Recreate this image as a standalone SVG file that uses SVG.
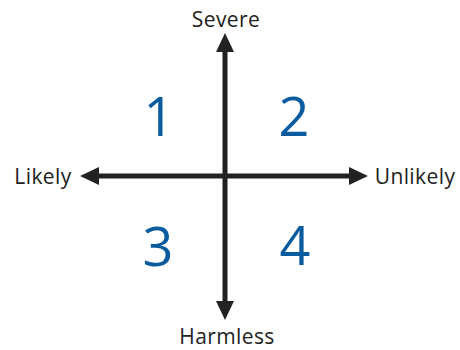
<svg xmlns="http://www.w3.org/2000/svg" width="460" height="350" viewBox="0 0 460 350">
<style>
.lbl{font-family:"Open Sans","Noto Sans",sans-serif;font-size:21px;fill:#222;text-anchor:middle;letter-spacing:0.4px}
.num{font-family:"Open Sans","Noto Sans",sans-serif;font-size:54px;fill:#0b5c9e;text-anchor:middle}
.ax{stroke:#222;stroke-width:5;fill:none}
.head{fill:#222}
</style>
<rect width="460" height="350" fill="#fff"/>
<g id="connectors">
<line class="ax" x1="225" y1="48" x2="225" y2="305"/>
<line class="ax" x1="95" y1="176" x2="353" y2="176"/>
<polygon class="head" points="225,33 216,52 234,52"/>
<polygon class="head" points="225,320 216,301 234,301"/>
<polygon class="head" points="80,176 99,167 99,185"/>
<polygon class="head" points="368,176 349,167 349,185"/>
</g>
<g id="severe"><text class="lbl" x="226" y="27">Severe</text></g>
<g id="harmless"><text class="lbl" x="227" y="344">Harmless</text></g>
<g id="likely"><text class="lbl" x="43" y="184">Likely</text></g>
<g id="unlikely"><text class="lbl" x="415" y="184">Unlikely</text></g>
<g id="q1"><text class="num" x="159" y="136">1</text></g>
<g id="q2"><text class="num" x="294" y="136">2</text></g>
<g id="q3"><text class="num" x="158" y="266">3</text></g>
<g id="q4"><text class="num" x="295" y="265">4</text></g>
</svg>
